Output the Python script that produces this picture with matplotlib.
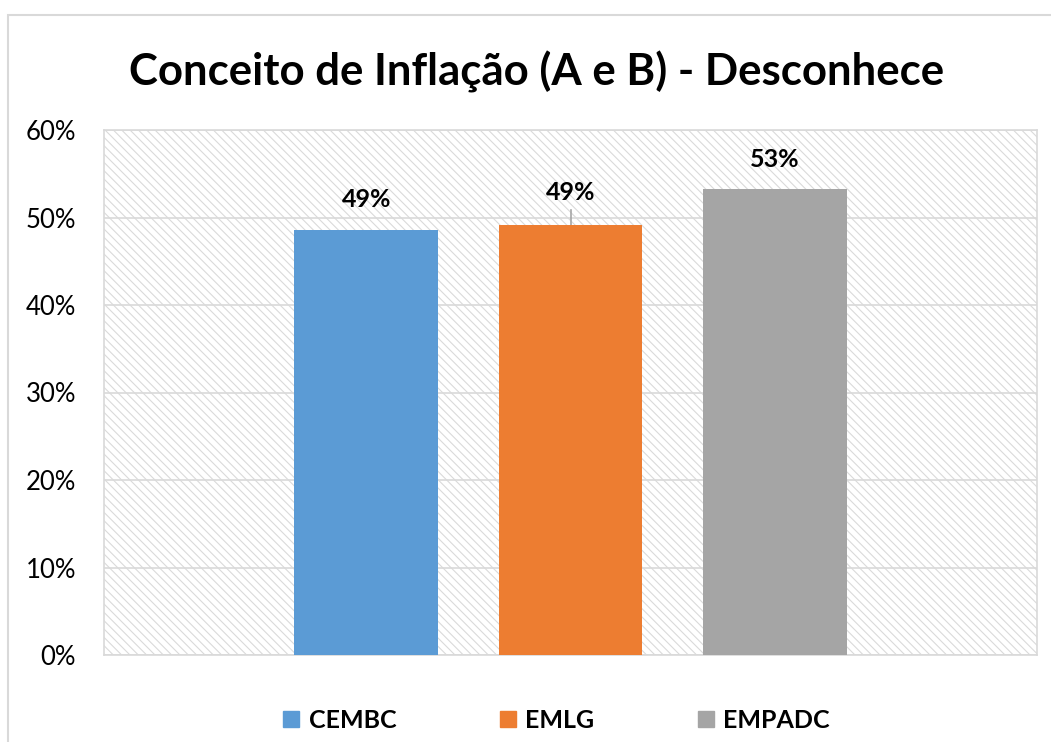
import matplotlib
matplotlib.use("Agg")
import matplotlib.pyplot as plt
from matplotlib.patches import Rectangle
from matplotlib.lines import Line2D
from matplotlib.ticker import FuncFormatter

# data
series = ["CEMBC", "EMLG", "EMPADC"]
values = [48.6, 49.1, 53.3]
labels = ["49%", "49%", "53%"]
colors = ["#5b9bd5", "#ed7d31", "#a5a5a5"]
yticks = [0, 10, 20, 30, 40, 50, 60]

plt.rcParams["font.family"] = ["Lato", "DejaVu Sans"]
plt.rcParams["hatch.color"] = "#dadada"
plt.rcParams["hatch.linewidth"] = 0.8

W, H = 1051, 742
fig = plt.figure(figsize=(W / 100, H / 100), dpi=100)

# outer chart border (only top and left edges fall inside the image)
fig.patches.append(Rectangle((8 / W, -0.1), 1.2, 1 - 15 / H + 0.1,
                             transform=fig.transFigure, fill=False,
                             edgecolor="#d9d9d9", linewidth=1.5))

ax = fig.add_axes([104 / W, 1 - 655 / H, (1037 - 104) / W, (655 - 130) / H])
ax.patch.set_facecolor("white")
ax.patch.set_hatch("\\\\\\\\")
ax.patch.set_edgecolor("#dadada")

offsets = [-0.219, 0.0, 0.219]
for x, v, c, s in zip(offsets, values, colors, series):
    ax.bar(x, v, width=0.154, color=c, zorder=3, label=s)

ax.set_xlim(-0.5, 0.5)
ax.set_ylim(0, 60)
ax.set_yticks(yticks)
ax.yaxis.set_major_formatter(FuncFormatter(lambda v, p: f"{v:.0f}%"))
ax.set_xticks([])
ax.tick_params(axis="y", length=0, pad=20, labelsize=18.5)
ax.grid(axis="y", color="#d9d9d9", linewidth=1.2, zorder=1)
for side in ["left", "top", "right", "bottom"]:
    ax.spines[side].set_color("#d9d9d9")
    ax.spines[side].set_linewidth(1.2)

# value labels
label_y = [52.1, 52.9, 56.6]
for x, ly, t in zip(offsets, label_y, labels):
    ax.text(x, ly, t, ha="center", va="center", fontsize=18,
            fontweight="bold", zorder=4)
# leader line for the middle label
ax.plot([0, 0], [50.85, values[1]], color="#a6a6a6", linewidth=1.2, zorder=2)

fig.text(0.511, 1 - 72 / H, "Conceito de Inflação (A e B) - Desconhece",
         ha="center", va="center", fontsize=31.5, fontweight="bold")

handles = [Line2D([], [], marker="s", linestyle="", markersize=12,
                  markerfacecolor=c, markeredgecolor=c) for c in colors]
fig.legend(handles, series, loc="center", bbox_to_anchor=(0.528, 1 - 720 / H),
           ncol=3, frameon=False, prop={"weight": "bold", "size": 18},
           columnspacing=4.0, handletextpad=0.25, handlelength=0.9)

fig.savefig("out.png", dpi=100)
